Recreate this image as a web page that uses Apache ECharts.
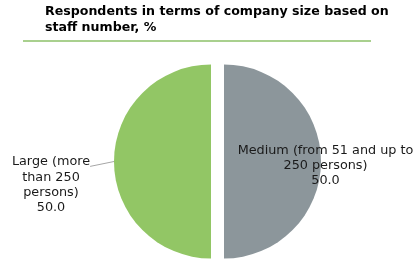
<!DOCTYPE html>
<html><head><meta charset="utf-8">
<script src="https://cdn.jsdelivr.net/npm/echarts@6/dist/echarts.min.js"></script>
<style>html,body{margin:0;padding:0;background:#fff}#c{width:413px;height:262px}</style>
</head><body><div id="c"></div>
<script>
const categories = ['Medium (from 51 and up to\n250 persons)', 'Large (more\nthan 250\npersons)'];
const values = [50.0, 50.0];
const colors = ['#8c969b', '#92c665'];
const labelPos = [[325.5, 165.5], [51, 166.4]];
const labelGap = [0, 37];
const explode = 6.5;
const cx = 217.5, cy = 161.5, R = 97;

const total = values.reduce((a, b) => a + b, 0);
let angle = 90;
const series = categories.map((c, i) => {
  const start = angle;
  const sweep = 360 * values[i] / total;
  angle -= sweep;
  const mid = (start - sweep / 2) * Math.PI / 180;
  return {
    type: 'pie',
    center: [cx + explode * Math.cos(mid), cy - explode * Math.sin(mid)],
    radius: R,
    startAngle: start,
    endAngle: start - sweep,
    data: [{ name: c, value: values[i], itemStyle: { color: colors[i] } }],
    label: {
      show: true, position: 'outside', overflow: 'none',
      formatter: p => (labelGap[i] ? '{g| }\n' : '') + p.name + '\n' + p.value.toFixed(1),
      fontFamily: 'DejaVu Sans', fontSize: 12.8, lineHeight: 15.2, color: '#1a1a1a',
      rich: { g: { fontSize: 1, lineHeight: labelGap[i] || 1 } }
    },
    labelLine: { show: i === 1, length: 10, length2: 0, lineStyle: { color: '#a6a6a6', width: 1 } },
    labelLayout: { x: labelPos[i][0], y: labelPos[i][1], align: 'center', verticalAlign: 'middle' },
    emphasis: { scale: false }
  };
});

const chart = echarts.init(document.getElementById('c'));
chart.setOption({
  animation: false,
  title: {
    text: 'Respondents in terms of company size based on\nstaff number, %',
    left: 40, top: -2,
    textStyle: { fontFamily: 'DejaVu Sans', fontWeight: 'bold', fontSize: 12.6, lineHeight: 16.5, color: '#000' }
  },
  graphic: [{
    type: 'line', shape: { x1: 23, y1: 41, x2: 371, y2: 41 },
    style: { stroke: '#a9d08e', lineWidth: 2 }
  }],
  series: series
});
</script></body></html>
